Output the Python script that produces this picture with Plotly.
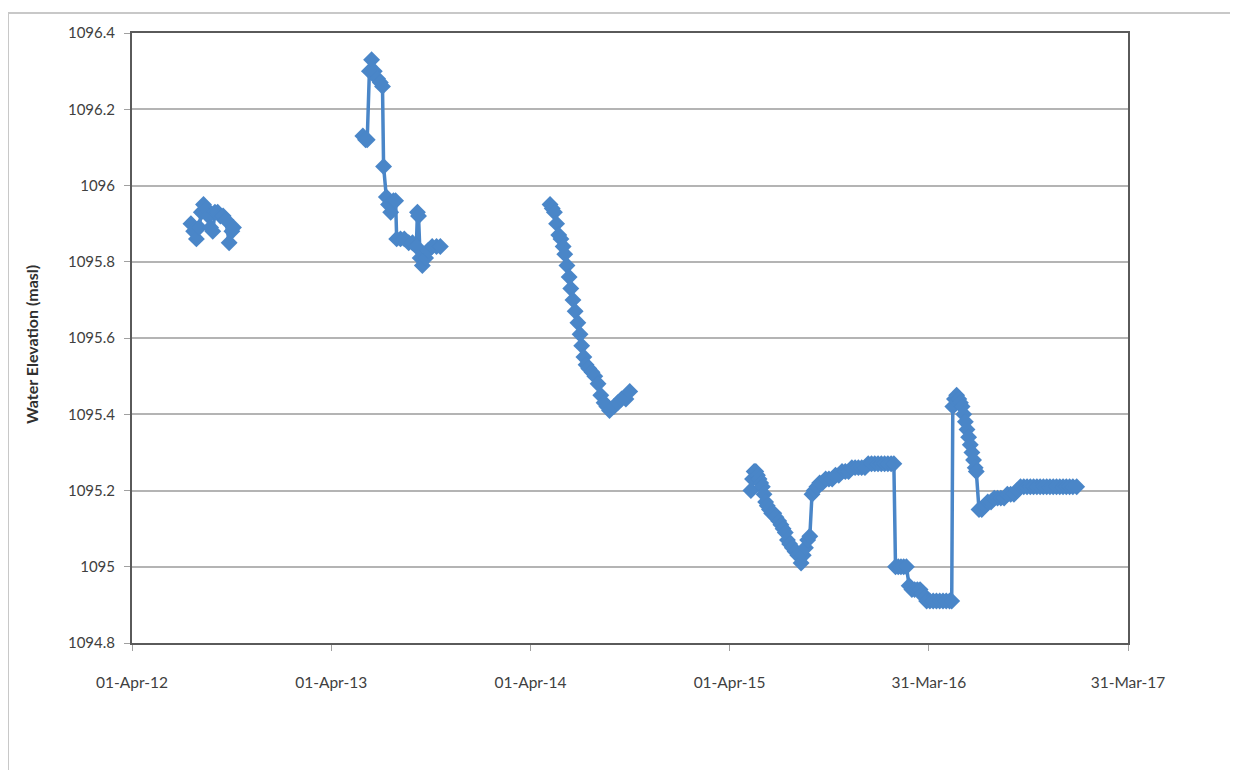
import plotly.graph_objects as go

# ---- data ----
seg2012_dates = ["2012-07-18", "2012-07-23", "2012-07-28", "2012-08-02", "2012-08-06", "2012-08-10",
                 "2012-08-15", "2012-08-19", "2012-08-23", "2012-08-27", "2012-08-31", "2012-09-05",
                 "2012-09-10", "2012-09-15", "2012-09-20", "2012-09-26", "2012-10-01", "2012-10-04"]
seg2012_elev = [1095.90, 1095.88, 1095.86, 1095.89, 1095.93, 1095.95,
                1095.94, 1095.92, 1095.89, 1095.88, 1095.93, 1095.93,
                1095.92, 1095.92, 1095.91, 1095.85, 1095.88, 1095.89]

seg2013_dates = ["2013-05-29", "2013-06-03", "2013-06-06", "2013-06-10", "2013-06-14", "2013-06-19",
                 "2013-06-25", "2013-06-30", "2013-07-04", "2013-07-06", "2013-07-11", "2013-07-15",
                 "2013-07-19", "2013-07-24", "2013-07-28", "2013-07-30", "2013-08-06", "2013-08-13",
                 "2013-08-21", "2013-08-28", "2013-09-04", "2013-09-06", "2013-09-08", "2013-09-11",
                 "2013-09-15", "2013-09-21", "2013-09-26", "2013-10-03", "2013-10-11", "2013-10-18"]
seg2013_elev = [1096.13, 1096.12, 1096.12, 1096.30, 1096.33, 1096.30,
                1096.28, 1096.27, 1096.26, 1096.05, 1095.97, 1095.95,
                1095.93, 1095.96, 1095.96, 1095.86, 1095.86, 1095.86,
                1095.85, 1095.85, 1095.84, 1095.93, 1095.92, 1095.81,
                1095.79, 1095.81, 1095.83, 1095.84, 1095.84, 1095.84]

seg2014_dates = ["2014-05-07", "2014-05-11", "2014-05-15", "2014-05-19", "2014-05-23", "2014-05-27",
                 "2014-05-31", "2014-06-03", "2014-06-07", "2014-06-11", "2014-06-14", "2014-06-18",
                 "2014-06-22", "2014-06-27", "2014-07-01", "2014-07-04", "2014-07-08", "2014-07-12",
                 "2014-07-17", "2014-07-23", "2014-07-28", "2014-08-03", "2014-08-08", "2014-08-14",
                 "2014-08-19", "2014-08-24", "2014-09-01", "2014-09-08", "2014-09-15", "2014-09-23",
                 "2014-09-30"]
seg2014_elev = [1095.95, 1095.94, 1095.93, 1095.90, 1095.87, 1095.86,
                1095.84, 1095.82, 1095.79, 1095.76, 1095.73, 1095.70,
                1095.67, 1095.64, 1095.61, 1095.58, 1095.55, 1095.53,
                1095.52, 1095.51, 1095.50, 1095.48, 1095.45, 1095.43,
                1095.42, 1095.41, 1095.42, 1095.43, 1095.44, 1095.44,
                1095.46]

seg2015_dates = ["2015-05-10", "2015-05-13", "2015-05-16", "2015-05-19", "2015-05-22", "2015-05-25",
                 "2015-05-28", "2015-05-31", "2015-06-03", "2015-06-06", "2015-06-09", "2015-06-13",
                 "2015-06-17", "2015-06-21", "2015-06-25", "2015-06-30", "2015-07-04", "2015-07-08",
                 "2015-07-12", "2015-07-16", "2015-07-20", "2015-07-25", "2015-07-30", "2015-08-04",
                 "2015-08-10", "2015-08-14", "2015-08-18", "2015-08-22", "2015-08-26", "2015-08-30",
                 "2015-09-03", "2015-09-08", "2015-09-13", "2015-09-18", "2015-09-24", "2015-09-30",
                 "2015-10-06", "2015-10-12", "2015-10-18", "2015-10-24", "2015-10-30", "2015-11-05",
                 "2015-11-11", "2015-11-17", "2015-11-23", "2015-11-29", "2015-12-05", "2015-12-11",
                 "2015-12-17", "2015-12-23", "2015-12-29", "2016-01-04", "2016-01-10", "2016-01-16",
                 "2016-01-22", "2016-01-27", "2016-01-30", "2016-02-04", "2016-02-09", "2016-02-14",
                 "2016-02-19", "2016-02-24", "2016-02-29", "2016-03-05", "2016-03-10", "2016-03-15",
                 "2016-03-19", "2016-03-23", "2016-03-27", "2016-04-02", "2016-04-08", "2016-04-14",
                 "2016-04-20", "2016-04-26", "2016-05-02", "2016-05-08", "2016-05-12", "2016-05-14",
                 "2016-05-17", "2016-05-21", "2016-05-25", "2016-05-28", "2016-05-31", "2016-06-03",
                 "2016-06-06", "2016-06-09", "2016-06-12", "2016-06-15", "2016-06-18", "2016-06-21",
                 "2016-06-24", "2016-06-26", "2016-07-01", "2016-07-06", "2016-07-11", "2016-07-17",
                 "2016-07-23", "2016-07-29", "2016-08-04", "2016-08-10", "2016-08-16", "2016-08-22",
                 "2016-08-28", "2016-09-03", "2016-09-09", "2016-09-15", "2016-09-21", "2016-09-27",
                 "2016-10-03", "2016-10-09", "2016-10-15", "2016-10-21", "2016-10-27", "2016-11-02",
                 "2016-11-08", "2016-11-14", "2016-11-20", "2016-11-26", "2016-12-02", "2016-12-08",
                 "2016-12-14", "2016-12-20", "2016-12-27"]
seg2015_elev = [1095.20, 1095.23, 1095.25, 1095.25, 1095.24, 1095.23,
                1095.22, 1095.21, 1095.19, 1095.17, 1095.16, 1095.15,
                1095.14, 1095.14, 1095.13, 1095.12, 1095.11, 1095.10,
                1095.09, 1095.07, 1095.06, 1095.05, 1095.04, 1095.03,
                1095.01, 1095.03, 1095.05, 1095.07, 1095.08, 1095.19,
                1095.20, 1095.21, 1095.22, 1095.22, 1095.23, 1095.23,
                1095.23, 1095.24, 1095.24, 1095.25, 1095.25, 1095.25,
                1095.26, 1095.26, 1095.26, 1095.26, 1095.26, 1095.27,
                1095.27, 1095.27, 1095.27, 1095.27, 1095.27, 1095.27,
                1095.27, 1095.27, 1095.00, 1095.00, 1095.00, 1095.00,
                1095.00, 1094.95, 1094.94, 1094.94, 1094.94, 1094.94,
                1094.93, 1094.92, 1094.91, 1094.91, 1094.91, 1094.91,
                1094.91, 1094.91, 1094.91, 1094.91, 1094.91, 1095.42,
                1095.44, 1095.45, 1095.44, 1095.43, 1095.42, 1095.40,
                1095.38, 1095.36, 1095.34, 1095.32, 1095.30, 1095.28,
                1095.26, 1095.25, 1095.15, 1095.15, 1095.16, 1095.17,
                1095.17, 1095.18, 1095.18, 1095.18, 1095.18, 1095.19,
                1095.19, 1095.19, 1095.20, 1095.21, 1095.21, 1095.21,
                1095.21, 1095.21, 1095.21, 1095.21, 1095.21, 1095.21,
                1095.21, 1095.21, 1095.21, 1095.21, 1095.21, 1095.21,
                1095.21, 1095.21, 1095.21]

x_tick_vals = ["2012-04-01", "2013-04-01", "2014-04-01", "2015-04-01", "2016-03-31", "2017-03-31"]
x_tick_text = ["01-Apr-12", "01-Apr-13", "01-Apr-14", "01-Apr-15", "31-Mar-16", "31-Mar-17"]
y_tick_vals = [1094.8, 1095.0, 1095.2, 1095.4, 1095.6, 1095.8, 1096.0, 1096.2, 1096.4]
y_tick_text = ["1094.8", "1095", "1095.2", "1095.4", "1095.6", "1095.8", "1096", "1096.2", "1096.4"]

# combine segments with gaps (empty cells)
dates, elev = [], []
for d, v in [(seg2012_dates, seg2012_elev), (seg2013_dates, seg2013_elev),
             (seg2014_dates, seg2014_elev), (seg2015_dates, seg2015_elev)]:
    if dates:
        dates.append(None)
        elev.append(None)
    dates.extend(d)
    elev.extend(v)

blue = "#4a86c8"
fig = go.Figure(go.Scatter(
    x=dates, y=elev, mode="lines+markers", connectgaps=False,
    line=dict(color=blue, width=3.5),
    marker=dict(symbol="diamond", size=13, color=blue, line=dict(width=0)),
    showlegend=False,
))

# page body has an 8px margin: work in page pixels and convert
OFF = 8
W, H = 1238, 770
L, R, T, B = 132, 1128, 33, 643  # plot area in page pixels
font_family = "Lato, 'Open Sans', sans-serif"


def px_x(p):
    return (p - L) / (R - L)


def px_y(p):
    return (B - p) / (B - T)


fig.update_layout(
    width=W, height=H,
    margin=dict(l=L - OFF, r=W - (R - OFF), t=T - OFF, b=H - (B - OFF)),
    paper_bgcolor="white", plot_bgcolor="white",
    font=dict(family=font_family, size=14, color="#404040"),
    xaxis=dict(
        type="date", range=["2012-04-01", "2017-03-31"],
        tickvals=x_tick_vals, ticktext=x_tick_text,
        showgrid=False, zeroline=False,
        showline=True, linecolor="#5a5a5a", linewidth=2, mirror=True,
        ticks="outside", ticklen=6, tickwidth=1, tickcolor="#a0a0a0",
        ticklabelstandoff=18,
        tickfont=dict(size=15.5, color="#404040"),
    ),
    yaxis=dict(
        range=[1094.8, 1096.4],
        tickvals=y_tick_vals, ticktext=y_tick_text,
        showgrid=True, gridcolor="#b4b4b4", gridwidth=2,
        zeroline=False,
        showline=True, linecolor="#5a5a5a", linewidth=2, mirror=True,
        ticks="outside", ticklen=6, tickwidth=1, tickcolor="#a0a0a0",
        ticklabelstandoff=6,
        tickfont=dict(size=15, color="#404040"),
    ),
    annotations=[dict(
        text="<b>Water Elevation (masl)</b>",
        xref="paper", yref="paper",
        x=px_x(31), y=px_y(345), xanchor="center", yanchor="middle",
        textangle=-90, showarrow=False,
        font=dict(size=16, color="#303030", family=font_family),
    )],
    shapes=[dict(
        type="rect", xref="paper", yref="paper",
        x0=px_x(8), x1=px_x(W + 20),
        y0=px_y(H + 20), y1=px_y(13),
        line=dict(color="#c8c8c8", width=2), fillcolor="rgba(0,0,0,0)",
        layer="below",
    )],
)

fig.write_html("out.html")
